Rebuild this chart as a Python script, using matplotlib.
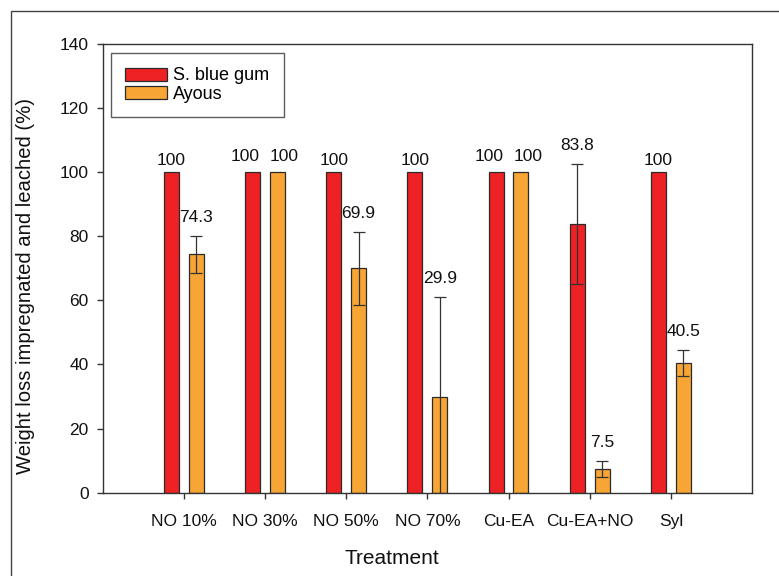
import matplotlib
matplotlib.use("Agg")
import matplotlib.pyplot as plt
from matplotlib.patches import Rectangle
import numpy as np

plt.rcParams['font.family'] = ['Liberation Sans', 'DejaVu Sans']

categories = ["NO 10%", "NO 30%", "NO 50%", "NO 70%", "Cu-EA", "Cu-EA+NO", "Syl"]
blue_gum = [100, 100, 100, 100, 100, 83.8, 100]
blue_gum_err = [0, 0, 0, 0, 0, 18.7, 0]
ayous = [74.3, 100, 69.9, 29.9, 100, 7.5, 40.5]
ayous_err = [5.7, 0, 11.4, 31.0, 0, 2.5, 4.0]
series_names = ["S. blue gum", "Ayous"]

RED = "#EE2225"
ORANGE = "#F7A535"
EDGE = "#2a2a2a"

fig = plt.figure(figsize=(7.79, 5.76), dpi=100)
ax = fig.add_axes([102.7/779, 1-492.7/576, (752-102.7)/779, (492.7-43.5)/576])

# outer frame
fig.patches.append(Rectangle((11/779, -0.1), 1.2, 1-11/576+0.1, transform=fig.transFigure,
                             fill=False, edgecolor="#444444", linewidth=1.0))

x = np.arange(1, len(categories)+1)
w = 0.185
off = 0.153

ax.bar(x-off, blue_gum, w, color=RED, edgecolor=EDGE, linewidth=0.9, zorder=2, label=series_names[0])
ax.bar(x+off, ayous, w, color=ORANGE, edgecolor=EDGE, linewidth=0.9, zorder=2, label=series_names[1])

tops1 = np.array(blue_gum) + np.array(blue_gum_err)
tops2 = np.array(ayous) + np.array(ayous_err)

for side, xs, vals, errs, tops, other in [(-1, x-off, blue_gum, blue_gum_err, tops1, tops2),
                                         (1, x+off, ayous, ayous_err, tops2, tops1)]:
    for i, (xi, v, e) in enumerate(zip(xs, vals, errs)):
        if e > 0:
            ax.errorbar(xi, v, yerr=e, fmt='none', ecolor="#333333", elinewidth=0.9,
                        capsize=4.6, capthick=0.9, zorder=3)
        dx = 7*side if abs(tops[i]-other[i]) < 5 else 0
        dy = 8 if e > 0 else (6 if dx else 3)
        ax.annotate(f"{v:g}", xy=(xi, v+e), xytext=(dx*0.72, dy),
                    textcoords='offset points', ha='center', va='bottom', fontsize=12.5,
                    color="#111111", zorder=4)

ax.set_xlim(0, 8)
ax.set_ylim(0, 140)
ax.set_yticks(np.arange(0, 141, 20))
ax.set_xticks(x)
ax.set_xticklabels(categories)

for s in ax.spines.values():
    s.set_color("#333333")
    s.set_linewidth(1.0)

ax.tick_params(axis='both', direction='out', length=4, width=1.0, color="#333333",
               labelsize=12.5, labelcolor="#111111")
ax.tick_params(axis='x', pad=11)
ax.tick_params(axis='y', pad=6)

ax.set_xlabel("Treatment", fontsize=15, color="#111111")
ax.xaxis.set_label_coords(0.446, -0.125)
ax.set_ylabel("Weight loss impregnated and leached (%)", fontsize=14.6, color="#111111")
ax.yaxis.set_label_coords(-0.104, 0.46)

leg = ax.legend(loc='upper left', bbox_to_anchor=((111-102.7)/649.3, 1-(53-43.5)/449.2),
                fontsize=13, frameon=True, fancybox=False, shadow=False,
                handlelength=2.3, handleheight=0.72, handletextpad=0.35,
                labelspacing=0.08, borderpad=0.8, borderaxespad=0)
leg.get_frame().set_edgecolor("#333333")
leg.get_frame().set_linewidth(1.0)

fig.savefig("out.png", dpi=100)
